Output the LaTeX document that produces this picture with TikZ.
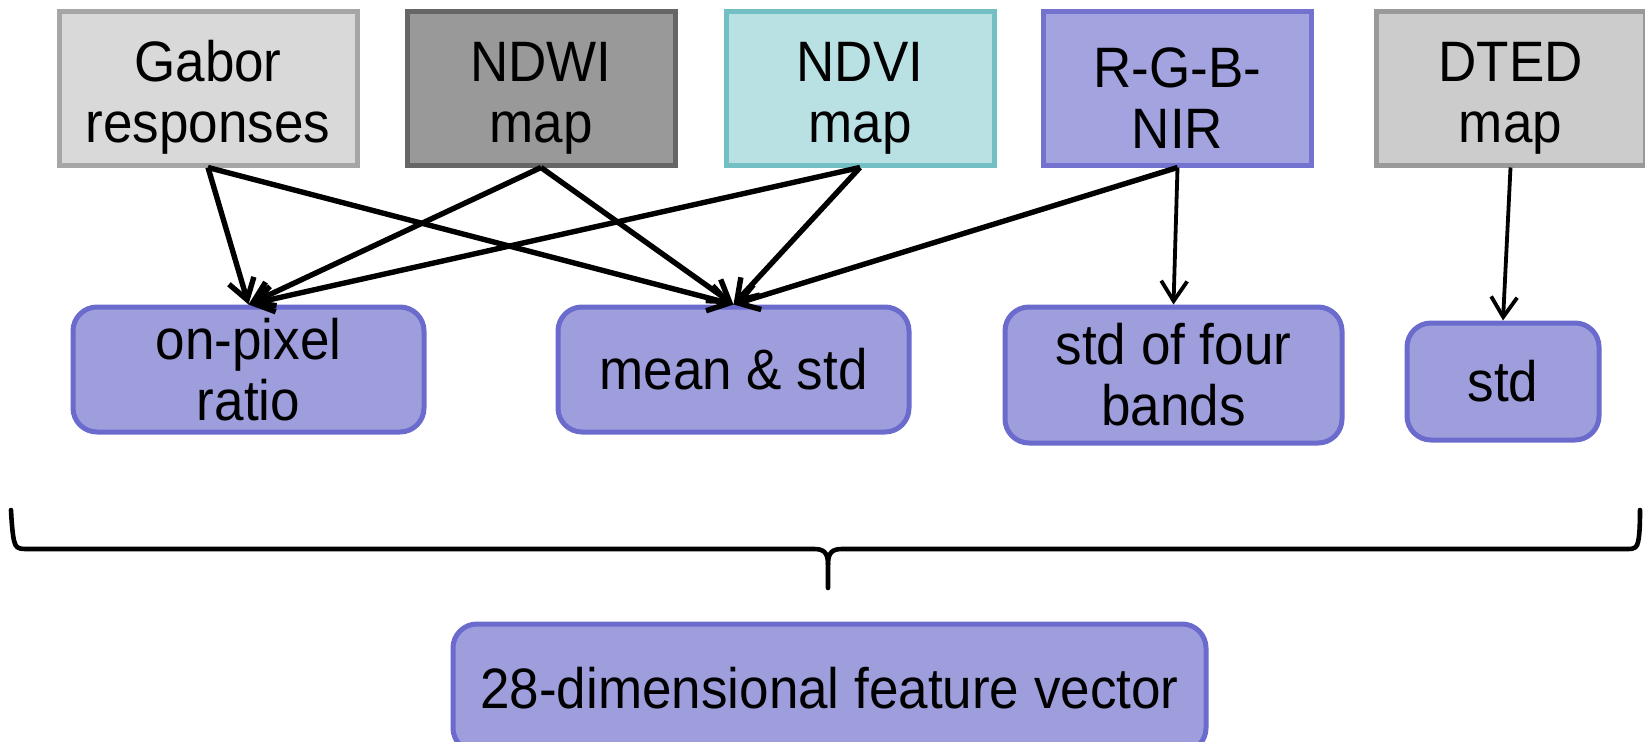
\documentclass[tikz,border=0pt]{standalone}
\usepackage{fontspec}
\setmainfont[FakeStretch=0.93]{Liberation Sans}
\usetikzlibrary{arrows.meta}

\definecolor{gaborfill}{HTML}{D9D9D9}\definecolor{gaborline}{HTML}{A6A6A6}
\definecolor{ndwifill}{HTML}{999999}\definecolor{ndwiline}{HTML}{666666}
\definecolor{ndvifill}{HTML}{B9E0E3}\definecolor{ndviline}{HTML}{72BFC4}
\definecolor{rgbfill}{HTML}{A3A3DF}\definecolor{rgbline}{HTML}{7373CF}
\definecolor{dtedfill}{HTML}{CCCCCC}\definecolor{dtedline}{HTML}{999999}
\definecolor{resfill}{HTML}{9E9EDD}\definecolor{resline}{HTML}{6B6BCE}

% strut that pushes a two-line label a little lower in its box
\newcommand{\toppad}{\rule{0pt}{58pt}}

\begin{document}
\begin{tikzpicture}[x=1pt,y=-1pt,
  every node/.style={font=\fontsize{57}{61}\selectfont, align=center,
    inner sep=0pt, line width=5pt},
  src/.style={draw, minimum width=268pt, minimum height=153pt},
  res/.style={draw=resline, fill=resfill, rounded corners=24pt},
  link/.style={-{Straight Barb[length=20pt,width=26pt]}, line width=5.4pt},
  thin link/.style={link, line width=3.8pt},
  brace/.style={line width=4.6pt, line cap=round, line join=round}]

\useasboundingbox (0,0) rectangle (1645,741);

% input maps
\node[src, fill=gaborfill, draw=gaborline, minimum width=298pt] (gabor) at (208,88.5) {\toppad Gabor\\responses};
\node[src, fill=ndwifill, draw=ndwiline] (ndwi) at (541,88.5) {\toppad NDWI\\map};
\node[src, fill=ndvifill, draw=ndviline] (ndvi) at (860,88.5) {\toppad NDVI\\map};
\node[src, fill=rgbfill, draw=rgbline] (rgb) at (1177.5,88.5) {\toppad R-G-B-\\NIR};
\node[src, fill=dtedfill, draw=dtedline, minimum width=269pt] (dted) at (1510.5,88.5) {\toppad DTED\\map};

% derived statistics
\node[res, minimum width=351pt, minimum height=125pt] (onpix) at (248.5,369.5) {on-pixel\\ratio};
\node[res, minimum width=351pt, minimum height=125pt] (mean) at (733.5,369.5) {mean \& std};
\node[res, minimum width=337pt, minimum height=136pt] (fourb) at (1173.5,375) {std of four\\bands};
\node[res, minimum width=192pt, minimum height=117pt] (std) at (1503,381.5) {std};

% final vector
\node[res, minimum width=753pt, minimum height=128pt] (feat) at (829.5,688) {28-dimensional feature vector};

% connectors
\draw[link] (gabor.south) -- (onpix.north);
\draw[link] (gabor.south) -- (mean.north);
\draw[link] (ndwi.south) -- (onpix.north);
\draw[link] (ndwi.south) -- (mean.north);
\draw[link] (ndvi.south) -- (onpix.north);
\draw[link] (ndvi.south) -- (mean.north);
\draw[link] (rgb.south) -- (mean.north);
\draw[thin link] (rgb.south) -- (fourb.north);
\draw[thin link] (dted.south) -- (std.north);

% brace gathering all statistics
\coordinate (bl) at (11,510);
\coordinate (br) at (1640,510);
\coordinate (tip) at (828,588);
\draw[brace] (bl) .. controls (12,530) and (13.5,540) .. (14.5,542)
  .. controls (15.5,547) and (18,549) .. (25,549)
  -- (814,549) .. controls (823,549) and (828,552) .. (828,564) -- (tip);
\draw[brace] (828,564) .. controls (828,552) and (833,549) .. (842,549)
  -- (1628,549) .. controls (1635,549) and (1637,547) .. (1638,542)
  .. controls (1639,538) and (1640,530) .. (br);
\end{tikzpicture}
\end{document}
